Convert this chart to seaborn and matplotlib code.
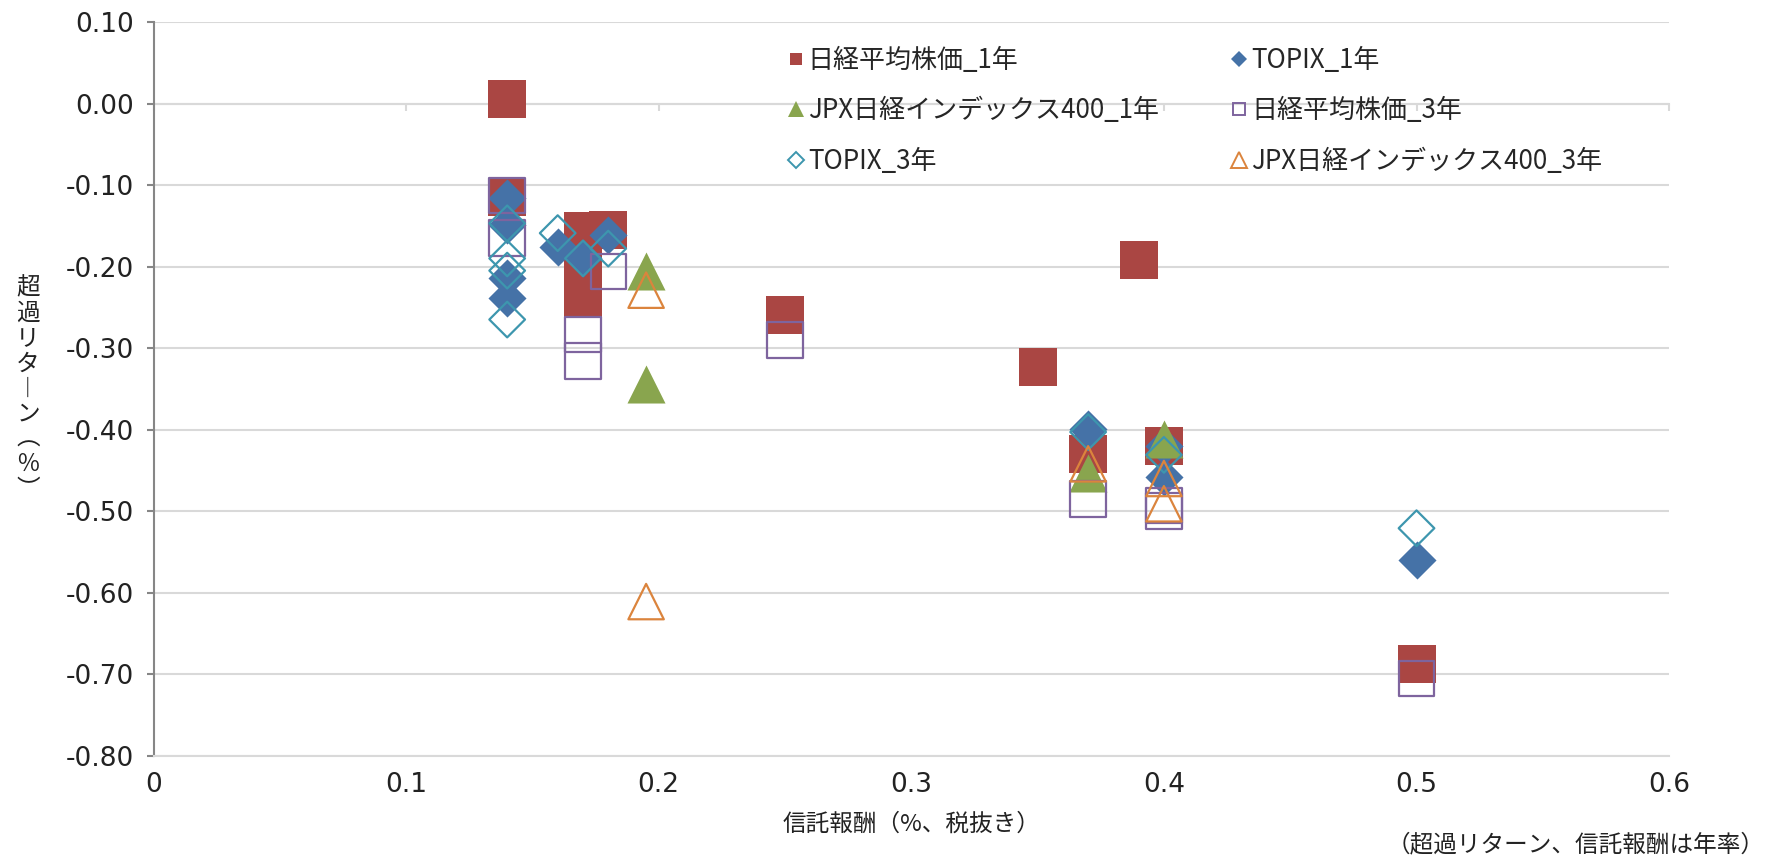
import matplotlib
matplotlib.use("Agg")
import matplotlib.pyplot as plt
from matplotlib.lines import Line2D
import seaborn as sns

# fee (%, excl. tax) vs excess return (%) for each fund
nikkei_1y_x = [0.14, 0.14, 0.17, 0.17, 0.17, 0.18, 0.25, 0.35, 0.37, 0.39, 0.40, 0.50]
nikkei_1y_y = [0.005, -0.115, -0.156, -0.197, -0.238, -0.155, -0.26, -0.323, -0.43, -0.192, -0.42, -0.688]

topix_1y_x = [0.14, 0.14, 0.14, 0.14, 0.16, 0.17, 0.18, 0.37, 0.40, 0.40, 0.50]
topix_1y_y = [-0.116, -0.149, -0.214, -0.239, -0.176, -0.19, -0.161, -0.399, -0.42, -0.458, -0.56]

jpx_1y_x = [0.195, 0.195, 0.37, 0.40]
jpx_1y_y = [-0.205, -0.344, -0.453, -0.412]

nikkei_3y_x = [0.14, 0.14, 0.17, 0.17, 0.18, 0.25, 0.37, 0.40, 0.40, 0.50]
nikkei_3y_y = [-0.113, -0.165, -0.283, -0.316, -0.206, -0.29, -0.485, -0.493, -0.50, -0.705]

topix_3y_x = [0.14, 0.14, 0.14, 0.14, 0.16, 0.17, 0.18, 0.37, 0.40, 0.50]
topix_3y_y = [-0.147, -0.19, -0.205, -0.265, -0.159, -0.19, -0.178, -0.403, -0.431, -0.521]

jpx_3y_x = [0.195, 0.195, 0.37, 0.40, 0.40]
jpx_3y_y = [-0.229, -0.611, -0.442, -0.46, -0.491]

series_names = ["日経平均株価_1年", "TOPIX_1年", "JPX日経インデックス400_1年",
                "日経平均株価_3年", "TOPIX_3年", "JPX日経インデックス400_3年"]

x_ticks = [0, 0.1, 0.2, 0.3, 0.4, 0.5, 0.6]
y_ticks = [-0.8, -0.7, -0.6, -0.5, -0.4, -0.3, -0.2, -0.1, 0.0, 0.1]

sns.set_theme(style="white")
plt.rcParams["font.family"] = ["Noto Sans CJK JP", "DejaVu Sans"]

fig = plt.figure(figsize=(17.67, 8.59), dpi=100)
ax = fig.add_axes([0.0869, 0.1203, 0.8577, 0.8541])

grid_c = "#D9D9D9"
text_c = "#222222"

# (x, y, marker, size, colour, filled) in Excel series order
series = [
    (nikkei_1y_x, nikkei_1y_y, "s", 750, "#AA4643", True),
    (topix_1y_x, topix_1y_y, "D", 376, "#4572A7", True),
    (jpx_1y_x, jpx_1y_y, "^", 750, "#89A54E", True),
    (nikkei_3y_x, nikkei_3y_y, "s", 650, "#7E649E", False),
    (topix_3y_x, topix_3y_y, "D", 330, "#3D96AE", False),
    (jpx_3y_x, jpx_3y_y, "^", 650, "#DB843D", False),
]

for xs, ys, mk, size, col, filled in series:
    if filled:
        sns.scatterplot(x=xs, y=ys, marker=mk, s=size, color=col,
                        edgecolor=col, linewidth=0, ax=ax, zorder=3)
    else:
        sns.scatterplot(x=xs, y=ys, marker=mk, s=size, color=col,
                        facecolor="none", edgecolor=col, linewidth=1.6,
                        ax=ax, zorder=3)

ax.set_xlim(0, 0.6)
ax.set_ylim(-0.8, 0.1)
ax.set_xticks(x_ticks)
ax.set_xticklabels(["0" if v == 0 else f"{v:.1f}" for v in x_ticks],
                   family="DejaVu Sans")
ax.set_yticks(y_ticks)
ax.set_yticklabels([f"{v:.2f}" for v in y_ticks], family="DejaVu Sans")
ax.tick_params(axis="x", length=0, pad=12, labelsize=19, colors=text_c)
ax.tick_params(axis="y", length=5, width=1.5, color="#868686", pad=9,
               labelsize=19, labelcolor=text_c, left=True)

ax.yaxis.grid(True, color=grid_c, linewidth=1.5)
ax.xaxis.grid(False)
ax.set_axisbelow(True)
for side in ["top", "right"]:
    ax.spines[side].set_visible(False)
ax.spines["left"].set_color("#868686")
ax.spines["left"].set_linewidth(1.5)
ax.spines["bottom"].set_color(grid_c)
ax.spines["bottom"].set_linewidth(1.5)

# horizontal axis crosses at y = 0 (tick marks only, labels stay at bottom)
sec = ax.secondary_xaxis(0.8 / 0.9)
sec.set_alignment("bottom")
sec.set_xticks(x_ticks)
sec.tick_params(axis="x", direction="out", length=5, width=1.5, color=grid_c,
                labelbottom=False, labeltop=False)
sec.spines["bottom"].set_color(grid_c)
sec.spines["bottom"].set_linewidth(1.5)

ax.set_xlabel("信託報酬（%、税抜き）", fontsize=17, color=text_c, labelpad=10)
ax.set_ylabel("")

ylabel_chars = ["超", "過", "リ", "タ", "︱", "ン", "︵", "％", "︶"]
fig.text(28 / 1767, 1 - 389 / 859, "\n".join(ylabel_chars), fontsize=17,
         color=text_c, ha="center", va="center", linespacing=1.12)

fig.text(0.9985, 1 - 845 / 859, "（超過リターン、信託報酬は年率）",
         fontsize=17, color=text_c, ha="right", va="center")

# legend: two columns, row-major like the original
handles = []
for xs, ys, mk, size, col, filled in series:
    ms = 11 if mk == "^" else (9 if mk == "s" else 8)
    handles.append(Line2D([], [], linestyle="none", marker=mk, markersize=ms,
                          markerfacecolor=col if filled else "none",
                          markeredgecolor=col, markeredgewidth=0 if filled else 1.4))
order = [0, 2, 4, 1, 3, 5]
ax.legend([handles[i] for i in order], [series_names[i] for i in order],
          ncol=2, loc="upper left", bbox_to_anchor=(0.418, 0.966),
          frameon=False, fontsize=18.7, handlelength=0.7, handletextpad=0.1,
          columnspacing=2.75, labelspacing=0.9, borderpad=0, borderaxespad=0)

plt.savefig("out.png", dpi=100)
